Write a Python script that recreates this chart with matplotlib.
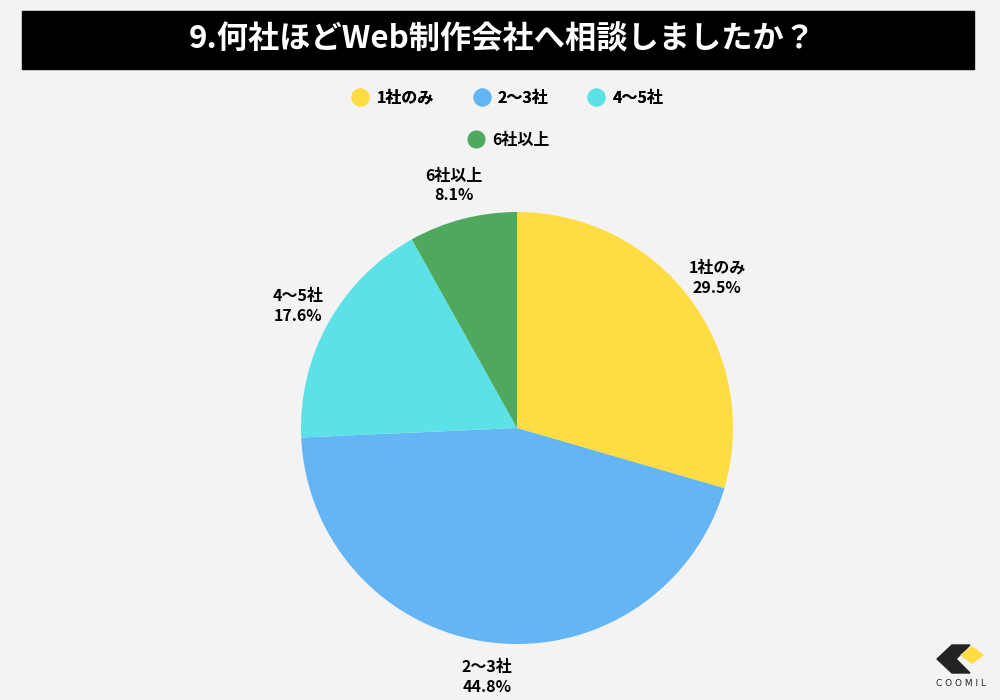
import matplotlib.pyplot as plt
from matplotlib.lines import Line2D
from matplotlib.patches import Rectangle, Polygon

plt.rcParams['font.family'] = ['Noto Sans CJK JP', 'DejaVu Sans']

labels = ['1社のみ', '2〜3社', '4〜5社', '6社以上']
values = [29.5, 44.8, 17.6, 8.1]
colors = ['#FFDC42', '#64B5F6', '#5CE1E6', '#4EA95F']
title = '9.何社ほどWeb制作会社へ相談しましたか？'

fig = plt.figure(figsize=(10, 7), dpi=100)
fig.patch.set_facecolor('#f3f3f3')


def px(x, y):
    # pixel position (from top-left) -> figure fraction
    return (x / 1000, 1 - y / 700)


# title bar
fig.patches.append(Rectangle(px(22, 69), 0.952, 58 / 700,
                             transform=fig.transFigure, color='black', zorder=0))
fig.text(0.502, 1 - 40 / 700, title, color='white', fontsize=22.5,
         fontweight='bold', ha='center', va='center')

# pie
ax = fig.add_axes([0.301, 56 / 700, 0.432, 432 / 700])
ax.set_facecolor('#f3f3f3')
wedges, texts = ax.pie(values, colors=colors, startangle=90, counterclock=False,
                       labels=[f'{l}\n{v}%' for l, v in zip(labels, values)],
                       labeldistance=1.16,
                       textprops=dict(fontsize=11.5, fontweight='bold',
                                      ha='center', va='center', linespacing=1.3))
ax.set_xlim(-1, 1)
ax.set_ylim(-1, 1)
ax.set_aspect('equal')

# legend (two rows)
handles = [Line2D([], [], marker='o', linestyle='', markersize=12,
                  markerfacecolor=c, markeredgecolor=c) for c in colors]
leg1 = fig.legend(handles[:3], labels[:3], ncol=3, loc='center',
                  bbox_to_anchor=(0.507, 1 - 98 / 700), frameon=False,
                  prop=dict(size=11.5, weight='bold'), columnspacing=2.4,
                  handletextpad=0.4, handlelength=1.2)
fig.legend(handles[3:], labels[3:], loc='center',
           bbox_to_anchor=(0.508, 1 - 140 / 700), frameon=False,
           prop=dict(size=11.5, weight='bold'), handletextpad=0.4, handlelength=1.2)
fig.add_artist(leg1)

# logo
dark = '#222222'
chevron = [px(952, 645), px(970, 645), px(956, 659), px(970, 673),
           px(952, 673), px(937, 659)]
fig.patches.append(Polygon(chevron, closed=True, transform=fig.transFigure,
                           color=dark))
diamond = [px(972, 647), px(983, 655), px(972, 663), px(961, 655)]
fig.patches.append(Polygon(diamond, closed=True, transform=fig.transFigure,
                           color='#FFDC42'))
fig.text(*px(961, 683), 'C O O M I L', fontsize=6.5, ha='center', va='center',
         color='#222222', family='DejaVu Sans')

fig.savefig('out.png', dpi=100, facecolor=fig.get_facecolor())
